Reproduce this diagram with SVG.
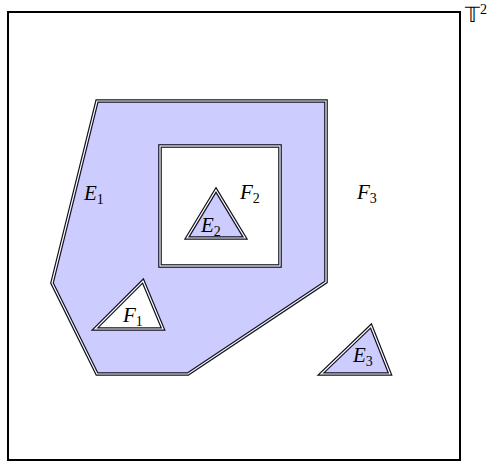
<svg xmlns="http://www.w3.org/2000/svg" width="491" height="467" viewBox="0 0 491 467">
<style>
.dbl{stroke:#111122;stroke-width:3.6;stroke-linejoin:miter}
.in{fill:none;stroke:#ffffff;stroke-width:1.2;stroke-linejoin:miter}
.blue{fill:#ccccff}
.white{fill:#ffffff}
.lbl{font-family:"Liberation Serif",serif;font-style:italic;font-size:21px;fill:#000}
.sub{font-family:"Liberation Serif",serif;font-size:14px;font-style:normal}
</style>
<rect width="491" height="467" fill="#fff"/>
<g id="torus">
<rect x="8" y="12" width="452" height="448" fill="none" stroke="#000" stroke-width="2"/>
<text x="465" y="22" font-family="Liberation Serif,serif" font-size="21">𝕋<tspan class="sub" dy="-8">2</tspan></text>
</g>
<g id="E1">
<path class="dbl blue" d="M97,101 L326,101 L326,282 L188,374 L97,374 L52,283 Z"/>
<path class="in" d="M97,101 L326,101 L326,282 L188,374 L97,374 L52,283 Z"/>
<text class="lbl" x="84" y="200">E<tspan class="sub" dy="4">1</tspan></text>
</g>
<g id="F2">
<rect class="dbl white" x="160" y="146" width="120" height="120"/>
<rect class="in" x="160" y="146" width="120" height="120"/>
<text class="lbl" x="240" y="199">F<tspan class="sub" dy="4">2</tspan></text>
</g>
<g id="E2">
<path class="dbl blue" d="M216,190 L245,238 L187,238 Z"/>
<path class="in" d="M216,190 L245,238 L187,238 Z"/>
<text class="lbl" x="201" y="232">E<tspan class="sub" dy="4">2</tspan></text>
</g>
<g id="F1">
<path class="dbl white" d="M143,281 L163,329 L95,329 Z"/>
<path class="in" d="M143,281 L163,329 L95,329 Z"/>
<text class="lbl" x="123" y="322">F<tspan class="sub" dy="4">1</tspan></text>
</g>
<g id="E3">
<path class="dbl blue" d="M371,326 L390,374 L321,374 Z"/>
<path class="in" d="M371,326 L390,374 L321,374 Z"/>
<text class="lbl" x="353" y="362">E<tspan class="sub" dy="4">3</tspan></text>
</g>
<g id="F3">
<text class="lbl" x="357" y="199">F<tspan class="sub" dy="4">3</tspan></text>
</g>
<g id="connectors"></g>
</svg>
